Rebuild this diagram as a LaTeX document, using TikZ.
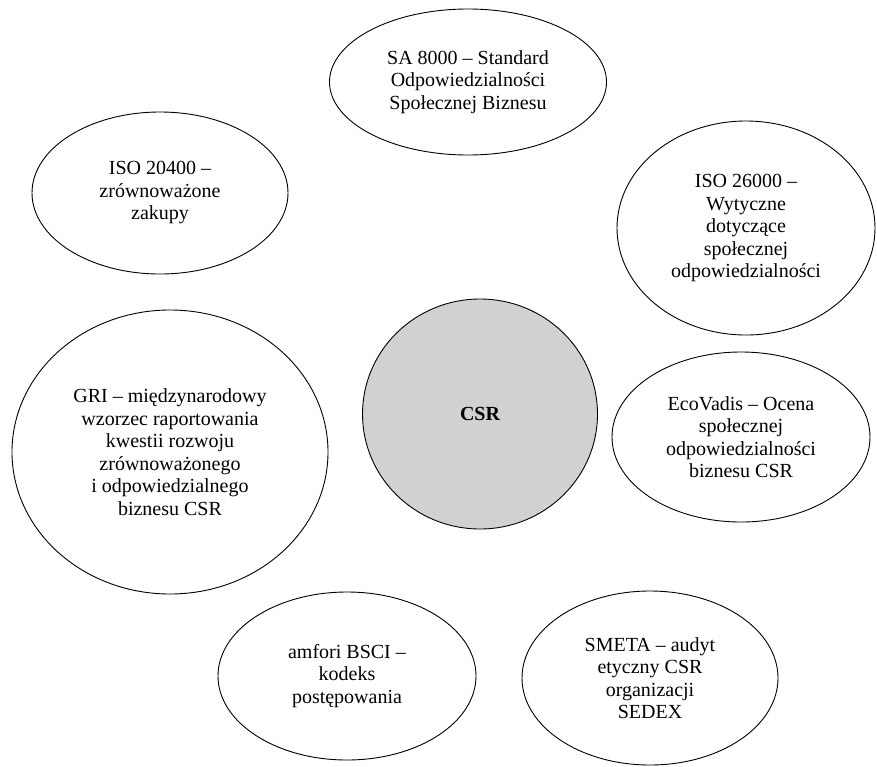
\documentclass[tikz,border=0pt]{standalone}
\usepackage{fontspec}
\setmainfont{Liberation Serif}
\usepackage{xcolor}
\usepackage{tikz}
\usetikzlibrary{shapes,positioning}

\begin{document}
\begin{tikzpicture}[
  x=1pt,y=-1pt,
  every node/.style={font=\fontsize{20}{22.5}\selectfont,align=center},
  bubble/.style={ellipse,draw=black,line width=0.9pt,fill=white,inner sep=0pt},
  core/.style={ellipse,draw=black,line width=0.9pt,fill=black!18,inner sep=0pt,font=\fontsize{20}{22.5}\selectfont\bfseries}
]
\useasboundingbox (0,0) rectangle (877,766);

\node[core,minimum width=235,minimum height=230] (csr) at (480,414) {CSR};

\node[bubble,minimum width=277,minimum height=146] (sa) at (468,82) {SA 8000 -- Standard\\Odpowiedzialności\\Społecznej Biznesu};
\node[bubble,minimum width=256,minimum height=162] (iso20) at (160,193) {ISO 20400 --\\zrównoważone\\zakupy};
\node[bubble,minimum width=258,minimum height=214] (iso26) at (746,228) {ISO 26000 --\\Wytyczne\\dotyczące\\społecznej\\odpowiedzialności};
\node[bubble,minimum width=316,minimum height=284] (gri) at (170,452) {GRI -- międzynarodowy\\wzorzec raportowania\\kwestii rozwoju\\zrównoważonego\\i odpowiedzialnego\\biznesu CSR};
\node[bubble,minimum width=258,minimum height=170] (eco) at (741,437) {EcoVadis -- Ocena\\społecznej\\odpowiedzialności\\biznesu CSR};
\node[bubble,minimum width=258,minimum height=168] (amfori) at (347,676) {amfori BSCI --\\kodeks\\postępowania};
\node[bubble,minimum width=256,minimum height=174] (smeta) at (650,678) {SMETA -- audyt\\etyczny CSR\\organizacji\\SEDEX};
\end{tikzpicture}
\end{document}
